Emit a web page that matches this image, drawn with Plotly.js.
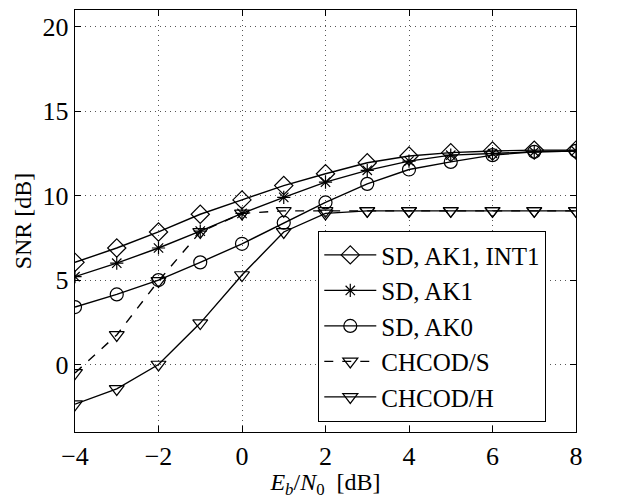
<!DOCTYPE html>
<html>
<head>
<meta charset="utf-8">
<script src="https://cdn.plot.ly/plotly-3.0.1.min.js"></script>
<style>html,body{margin:0;padding:0;background:#fff;}#chart{width:623px;height:499px;}</style>
</head>
<body>
<div id="chart"></div>
<script>
const ebn0 = [-4, -3, -2, -1, 0, 1, 2, 3, 4, 5, 6, 7, 8];
const sdAk1Int1 = [6.05, 6.9, 7.85, 8.9, 9.75, 10.6, 11.3, 11.95, 12.35, 12.55, 12.65, 12.7, 12.7];
const sdAk1 = [5.2, 6.0, 6.9, 7.9, 8.95, 9.9, 10.8, 11.5, 12.05, 12.4, 12.5, 12.6, 12.65];
const sdAk0 = [3.4, 4.15, 5.0, 6.05, 7.15, 8.4, 9.6, 10.7, 11.55, 12.0, 12.4, 12.6, 12.65];
const chcodS = [-0.5, 1.75, 4.95, 7.85, 8.95, 9.1, 9.1, 9.1, 9.1, 9.1, 9.1, 9.1, 9.1];
const chcodH = [-2.35, -1.45, 0.0, 2.45, 5.3, 7.85, 8.95, 9.1, 9.1, 9.1, 9.1, 9.1, 9.1];
const seriesNames = ["SD, AK1, INT1", "SD, AK1", "SD, AK0", "CHCOD/S", "CHCOD/H"];
const xTicks = [-4, -2, 0, 2, 4, 6, 8];
const yTicks = [0, 5, 10, 15, 20];

const FONT = "Liberation Serif, DejaVu Serif";
function tr(y, name, symbol, dash, size) {
  return {
    x: ebn0, y: y, name: name, type: "scatter", mode: "lines+markers",
    line: {color: "#000", width: 1.4, dash: dash},
    marker: {symbol: symbol, size: size, color: "#000", line: {color: "#000", width: 1.2}}
  };
}
const data = [
  tr(sdAk1Int1, seriesNames[0], "diamond-open", "solid", 14),
  tr(sdAk1, seriesNames[1], "asterisk-open", "solid", 11),
  tr(sdAk0, seriesNames[2], "circle-open", "solid", 13),
  tr(chcodS, seriesNames[3], "triangle-down-open", "dash", 13),
  tr(chcodH, seriesNames[4], "triangle-down-open", "solid", 13)
];
const axisCommon = {
  showline: true, linecolor: "#000", linewidth: 1.3, mirror: "ticks",
  ticks: "inside", ticklen: 6, tickcolor: "#000", tickwidth: 1,
  showgrid: true, gridcolor: "#555", gridwidth: 1, griddash: "1px,4px",
  zeroline: false, tickfont: {family: FONT, size: 26, color: "#000"}
};
const layout = {
  width: 623, height: 499,
  margin: {l: 75, r: 47, t: 10, b: 67},
  paper_bgcolor: "#fff", plot_bgcolor: "#fff",
  font: {family: FONT, color: "#000"},
  showlegend: true,
  xaxis: Object.assign({}, axisCommon, {
    range: [-4, 8], tickvals: xTicks, ticktext: xTicks.map(v => v < 0 ? "\u2212" + Math.abs(v) : String(v)),
    title: {text: "<i>E</i><sub><i>b</i></sub>/<i>N</i><sub>0</sub>  [dB]", font: {family: FONT, size: 24, color: "#000"}, standoff: 6}
  }),
  yaxis: Object.assign({}, axisCommon, {
    range: [-4, 21], tickvals: yTicks,
    title: {text: "SNR [dB]", font: {family: FONT, size: 24, color: "#000"}, standoff: 4}
  }),
  legend: {
    x: 0.485, y: 0.024, xanchor: "left", yanchor: "bottom",
    bgcolor: "#fff", bordercolor: "#000", borderwidth: 1.3,
    font: {family: FONT, size: 25, color: "#000"},
    tracegroupgap: 0, itemwidth: 52
  }
};
Plotly.newPlot("chart", data, layout, {displayModeBar: false, staticPlot: true});
</script>
</body>
</html>
